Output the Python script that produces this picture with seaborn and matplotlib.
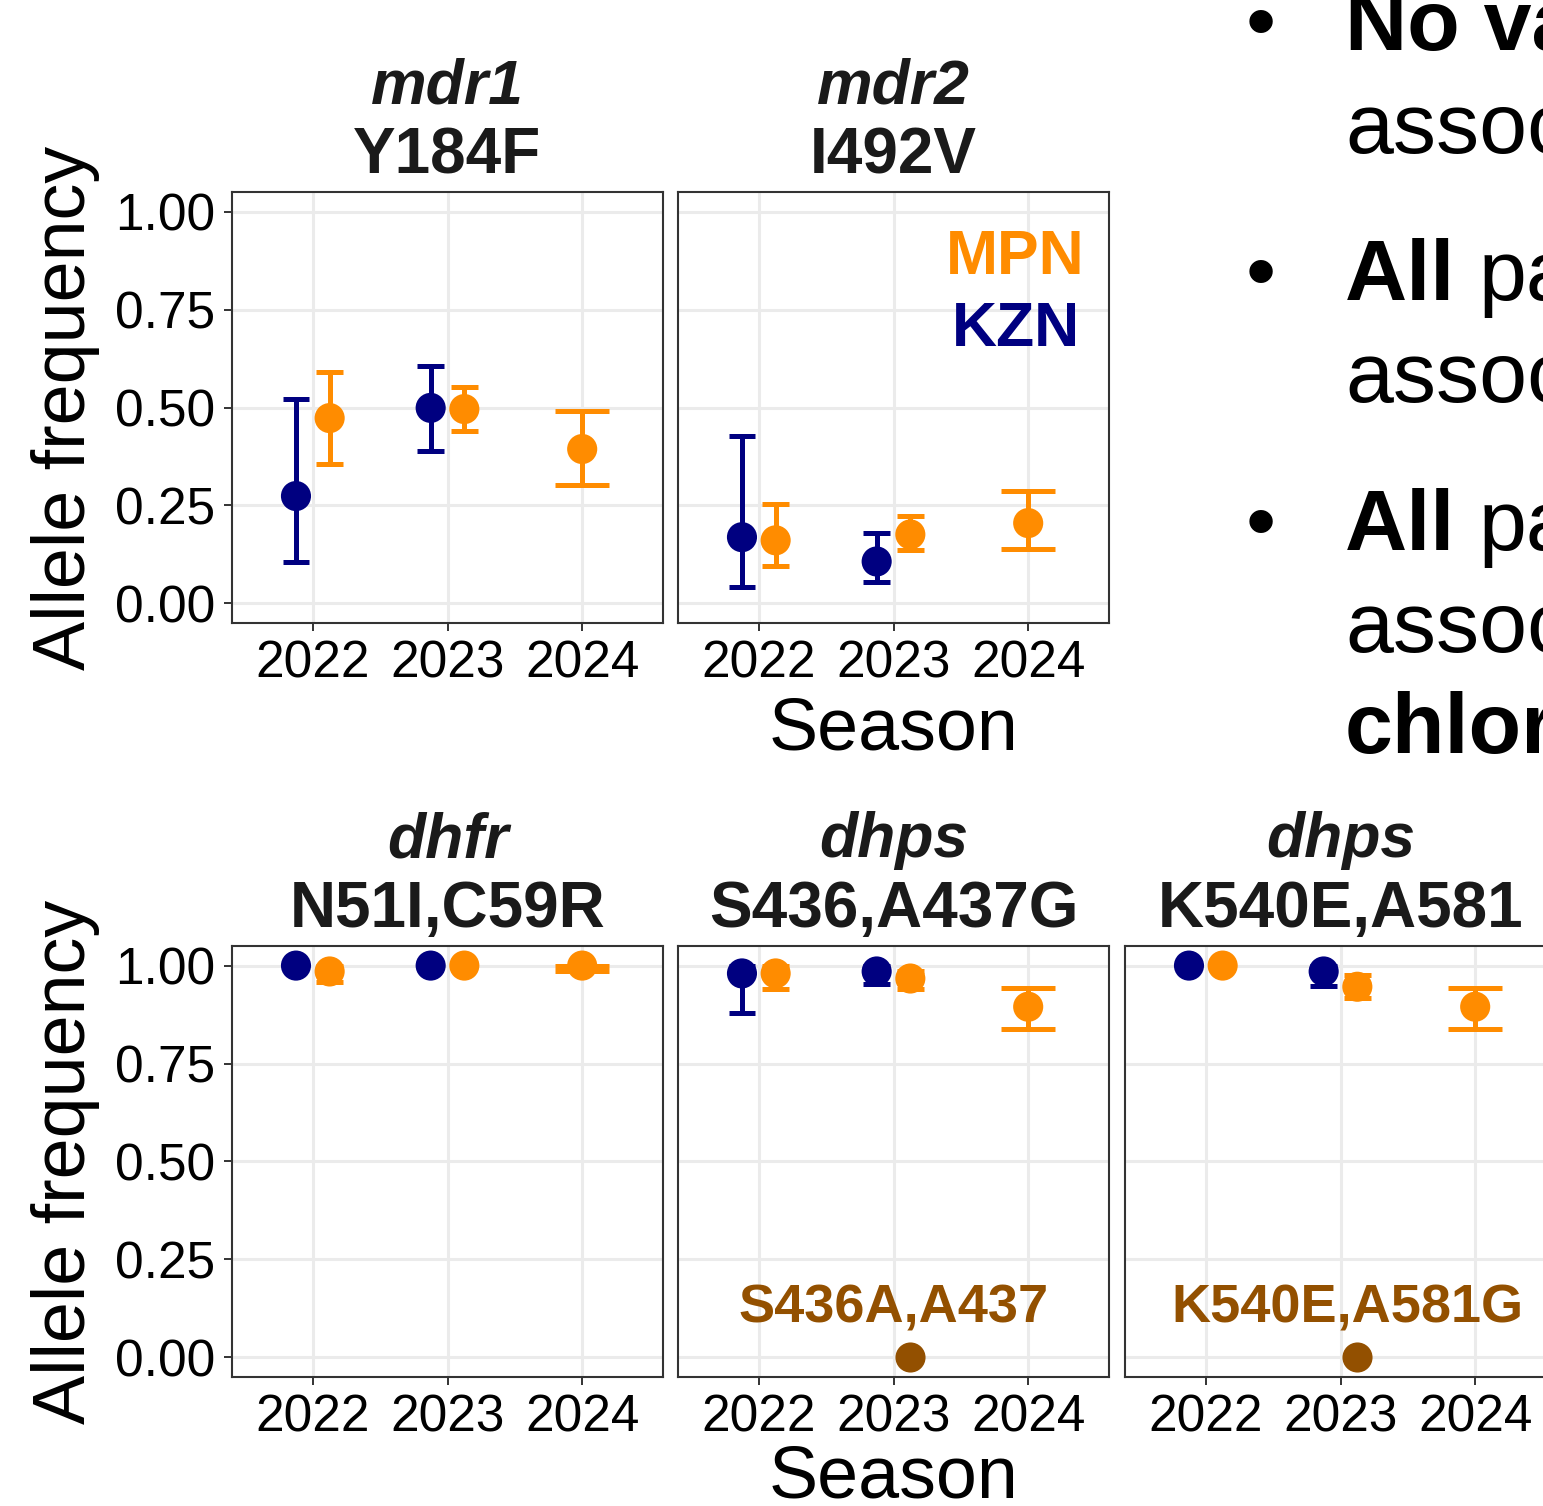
import numpy as np
import pandas as pd
import matplotlib
matplotlib.use("Agg")
import matplotlib.pyplot as plt
import seaborn as sns

# panels: gene (italic) and mutation (bold) titles
genes = ["mdr1", "mdr2", "dhfr", "dhps", "dhps"]
mutations = ["Y184F", "I492V", "N51I,C59R", "S436,A437G", "K540E,A581"]
seasons = ["2022", "2023", "2024"]

# allele frequency with confidence limits, one row per point
panel = [0, 0, 0, 0, 0,
         1, 1, 1, 1, 1,
         2, 2, 2, 2, 2,
         3, 3, 3, 3, 3,
         4, 4, 4, 4, 4]
province = ["KZN", "MPN", "KZN", "MPN", "MPN"] * 5
season = ["2022", "2022", "2023", "2023", "2024"] * 5
freq = [0.274, 0.473, 0.499, 0.496, 0.394,
        0.169, 0.161, 0.107, 0.176, 0.205,
        1.000, 0.985, 1.000, 1.000, 1.000,
        0.980, 0.980, 0.985, 0.967, 0.895,
        1.000, 1.000, 0.985, 0.946, 0.895]
lower = [0.105, 0.355, 0.389, 0.440, 0.302,
         0.043, 0.095, 0.054, 0.136, 0.138,
         1.000, 0.957, 1.000, 1.000, 0.987,
         0.880, 0.941, 0.954, 0.940, 0.839,
         1.000, 1.000, 0.949, 0.918, 0.837]
upper = [0.522, 0.591, 0.606, 0.552, 0.491,
         0.427, 0.253, 0.179, 0.223, 0.286,
         1.000, 1.000, 1.000, 1.000, 1.000,
         1.000, 1.000, 1.000, 0.985, 0.944,
         1.000, 1.000, 1.000, 0.977, 0.942]

# alternative haplotypes (MPN 2023)
alt_panel = [3, 4]
alt_label = ["S436A,A437", "K540E,A581G"]
alt_season = ["2023", "2023"]
alt_freq = [0.0, 0.0]

palette = {"KZN": "#000080", "MPN": "#FF8C00"}
alt_color = "#935000"

df = pd.DataFrame({"panel": panel, "province": province, "season": season,
                   "freq": freq, "lower": lower, "upper": upper})
df["si"] = df["season"].map({s: i for i, s in enumerate(seasons)})
n_prov = df.groupby(["panel", "season"])["province"].transform("nunique")
dodged = n_prov > 1
shift = df["province"].map({"KZN": -0.125, "MPN": 0.125})
df["xpos"] = df["si"] + np.where(dodged, shift, 0.0)
# errorbar width 0.4, split between dodged groups
df["half"] = np.where(dodged, 0.1, 0.2)

sns.set_theme(style="white")
plt.rcParams["font.family"] = ["Liberation Sans", "DejaVu Sans"]
plt.rcParams["text.color"] = "black"

W, H = 1543, 1506
fig = plt.figure(figsize=(W / 100, H / 100), dpi=100)


def fx(x):
    return x / W


def fy(y):
    return 1 - y / H


S = 431
layout = [(232, 192), (678, 192), (232, 946), (678, 946), (1125, 946)]
title_col = "#1A1A1A"
lw = 3.6

for p, (left, top) in enumerate(layout):
    ax = fig.add_axes([fx(left), fy(top + S), S / W, S / H])
    sub = df[df["panel"] == p]
    for prov, g in sub.groupby("province"):
        c = palette[prov]
        ax.vlines(g["xpos"], g["lower"], g["upper"], color=c, linewidth=lw,
                  zorder=2)
        ax.hlines(g["lower"], g["xpos"] - g["half"], g["xpos"] + g["half"],
                  color=c, linewidth=lw, zorder=2)
        ax.hlines(g["upper"], g["xpos"] - g["half"], g["xpos"] + g["half"],
                  color=c, linewidth=lw, zorder=2)
    sns.scatterplot(data=sub, x="xpos", y="freq", hue="province",
                    palette=palette, s=470, linewidth=0, legend=False,
                    ax=ax, zorder=3)
    if p in alt_panel:
        k = alt_panel.index(p)
        si = seasons.index(alt_season[k])
        ax.scatter([si + 0.125], [alt_freq[k]], s=470, color=alt_color,
                   linewidth=0, zorder=3)
        ax.text(si + [0.0, 0.055][k], 0.09, alt_label[k],
                ha="center", va="baseline", fontsize=39,
                fontweight="bold", color=alt_color)
    ax.set_xlim(-0.6, 2.6)
    ax.set_ylim(-0.05, 1.05)
    ax.set_xticks(range(3))
    ax.set_xticklabels(seasons)
    ax.set_yticks([0, 0.25, 0.5, 0.75, 1.0])
    ax.set_yticklabels(["0.00", "0.25", "0.50", "0.75", "1.00"])
    ax.set_xlabel("")
    ax.set_ylabel("")
    ax.grid(True, color="#EBEBEB", linewidth=2.2)
    ax.set_axisbelow(True)
    for sp in ax.spines.values():
        sp.set_color("#333333")
        sp.set_linewidth(1.5)
    ax.tick_params(axis="both", which="both", length=5.8, width=1.4,
                   color="#333333", labelsize=37, labelcolor="black", pad=6,
                   bottom=True)
    if left != 232:
        ax.tick_params(axis="y", left=False, labelleft=False)
    else:
        ax.tick_params(axis="y", left=True)

    cx = left + S / 2
    fig.text(fx(cx), fy(top - 89), genes[p], ha="center", va="baseline",
             fontsize=45, fontweight="bold", fontstyle="italic", color=title_col)
    fig.text(fx(cx), fy(top - 19), mutations[p], ha="center", va="baseline",
             fontsize=46, fontweight="bold", color=title_col)

# legend text in the mdr2 panel
fig.text(fx(1085), fy(274), "MPN", ha="right", va="baseline", fontsize=45,
         fontweight="bold", color=palette["MPN"])
fig.text(fx(1080), fy(346), "KZN", ha="right", va="baseline", fontsize=45,
         fontweight="bold", color=palette["KZN"])

# axis titles
for top, sb in ((192, 750), (946, 1497)):
    fig.text(fx(66), fy(top + S / 2), "Allele frequency", rotation=90,
             ha="center", va="center", fontsize=53, color="black")
    fig.text(fx(893), fy(sb), "Season", ha="center", va="baseline",
             fontsize=53, color="black")

# bullet text on the right
bullets = [50, 300, 550]
for b in bullets:
    fig.text(fx(1261), fy(b), "\u2022", ha="center", va="baseline",
             fontsize=62, color="black")
lines = [(50, "No va", "bold"), (153, "assoc", "normal"), (300, "All", "bold"),
         (402, "assoc", "normal"), (550, "All", "bold"), (652, "assoc", "normal"),
         (753, "chlor", "bold")]
for yb, txt, wt in lines:
    fig.text(fx(1345), fy(yb), txt, ha="left", va="baseline", fontsize=62,
             fontweight=wt, color="black")
for yb in (300, 550):
    fig.text(fx(1478), fy(yb), "pa", ha="left", va="baseline", fontsize=62,
             color="black")

fig.savefig("out.png", dpi=100)
